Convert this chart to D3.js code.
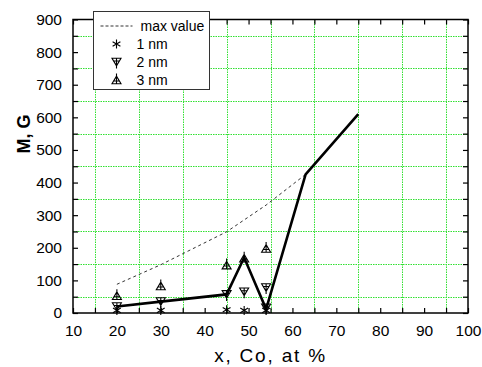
<!DOCTYPE html>
<html>
<head>
<meta charset="utf-8">
<script src="https://cdn.jsdelivr.net/npm/d3@7"></script>
<style>
  body { margin: 0; background: #fff; }
  text { font-family: "Liberation Sans", Arial, sans-serif; }
</style>
</head>
<body>
<div id="chart"></div>
<script>
// values
const xTickValues = [10, 20, 30, 40, 50, 60, 70, 80, 90, 100];
const yTickValues = [0, 100, 200, 300, 400, 500, 600, 700, 800, 900];
const xGridValues = [15, 25, 35, 45, 55, 65, 75, 85, 95];
const yGridValues = [50, 150, 250, 350, 450, 550, 650, 750, 850];

const maxX = [20, 30, 45, 54, 63];
const maxY = [88, 148, 249, 331, 425];

const lineX = [20, 30, 45, 49, 54, 63, 75];
const lineY = [20, 35, 57, 170, 12, 425, 610];

const nm1X = [20, 30, 45, 49, 54];
const nm1Y = [8, 8, 10, 8, 8];
const nm2X = [20, 30, 45, 49, 54, 54];
const nm2Y = [20, 35, 57, 65, 78, 16];
const nm3X = [20, 30, 45, 49, 54];
const nm3Y = [53, 83, 147, 168, 198];

const legendLabels = ["max value", "1 nm", "2 nm", "3 nm"];

const width = 482, height = 367;
const margin = {left: 73, right: 14, top: 19.5, bottom: 54};

const svg = d3.select("#chart").append("svg")
  .attr("width", width).attr("height", height);

const x = d3.scaleLinear().domain([10, 100]).range([margin.left, width - margin.right]);
const y = d3.scaleLinear().domain([0, 900]).range([height - margin.bottom, margin.top]);

const minorX = d3.range(10, 100.1, 5);
const minorY = d3.range(0, 900.1, 50);

// green dotted grid
const px = v => Math.round(v) + 0.5;
svg.append("g").selectAll("line").data(xGridValues).enter().append("line")
  .attr("x1", d => px(x(d))).attr("x2", d => px(x(d)))
  .attr("y1", y(0)).attr("y2", y(900))
  .attr("stroke", "#33e033").attr("stroke-width", 1).attr("stroke-dasharray", "1.5,1");
svg.append("g").selectAll("line").data(yGridValues).enter().append("line")
  .attr("x1", x(10)).attr("x2", x(100))
  .attr("y1", d => px(y(d))).attr("y2", d => px(y(d)))
  .attr("stroke", "#33e033").attr("stroke-width", 1).attr("stroke-dasharray", "1.5,1");

function styleAxis(g) {
  g.select(".domain").remove();
  g.selectAll(".tick line").attr("stroke", "#000").attr("stroke-width", 1.2);
  g.selectAll(".tick text").attr("font-size", "15.5px").attr("fill", "#000")
    .attr("font-family", "Liberation Sans, Arial, sans-serif");
}

const fmtX = d => xTickValues.includes(d) ? d : "";
const fmtY = d => yTickValues.includes(d) ? d : "";

svg.append("g").attr("transform", `translate(0,${y(0)})`)
  .call(d3.axisBottom(x).tickValues(minorX).tickSize(-5).tickPadding(12).tickFormat(fmtX))
  .call(styleAxis);
svg.append("g").attr("transform", `translate(0,${y(900)})`)
  .call(d3.axisTop(x).tickValues(minorX).tickSize(-5).tickFormat(""))
  .call(styleAxis);
svg.append("g").attr("transform", `translate(${x(10)},0)`)
  .call(d3.axisLeft(y).tickValues(minorY).tickSize(-5).tickPadding(11).tickFormat(fmtY))
  .call(styleAxis);
svg.append("g").attr("transform", `translate(${x(100)},0)`)
  .call(d3.axisRight(y).tickValues(minorY).tickSize(-5).tickFormat(""))
  .call(styleAxis);

// frame
svg.append("rect")
  .attr("x", x(10)).attr("y", y(900))
  .attr("width", x(100) - x(10)).attr("height", y(0) - y(900))
  .attr("fill", "none").attr("stroke", "#000").attr("stroke-width", 1.5);

// max value dashed
const maxData = maxX.map((d, i) => [d, maxY[i]]);
svg.append("path").datum(maxData)
  .attr("d", d3.line().x(d => x(d[0])).y(d => y(d[1])))
  .attr("fill", "none").attr("stroke", "#333").attr("stroke-width", 1)
  .attr("stroke-dasharray", "3,3");

// solid line
const lineData = lineX.map((d, i) => [d, lineY[i]]);
svg.append("path").datum(lineData)
  .attr("d", d3.line().x(d => x(d[0])).y(d => y(d[1])))
  .attr("fill", "none").attr("stroke", "#000").attr("stroke-width", 2.6)
  .attr("stroke-linejoin", "miter");

// marker shapes
const shapes = {
  nm1: "M0,-4.5V4.5M-3.9,-2.3L3.9,2.3M-3.9,2.3L3.9,-2.3",
  nm2: "M-4.5,-3.8H4.5L0,3.8Z M0,-3.8V6.5 M-2.8,-1H2.8",
  nm3: "M-4.5,3.8H4.5L0,-3.8Z M0,3.8V-6.5 M-2.8,1H2.8"
};

function drawMarkers(xs, ys, shape) {
  svg.append("g").selectAll("path").data(xs.map((d, i) => [d, ys[i]])).enter()
    .append("path")
    .attr("transform", d => `translate(${x(d[0])},${y(d[1])})`)
    .attr("d", shape)
    .attr("fill", "none").attr("stroke", "#000").attr("stroke-width", 1.1);
}
drawMarkers(nm1X, nm1Y, shapes.nm1);
drawMarkers(nm2X, nm2Y, shapes.nm2);
drawMarkers(nm3X, nm3Y, shapes.nm3);

// legend
const lg = svg.append("g").attr("transform", "translate(93.5,11.5)");
lg.append("rect").attr("width", 116).attr("height", 78)
  .attr("fill", "#fff").attr("stroke", "#333").attr("stroke-width", 1);
const rowY = [14.5, 32.5, 50.5, 68.5];
lg.append("line").attr("x1", 7).attr("x2", 39).attr("y1", rowY[0]).attr("y2", rowY[0])
  .attr("stroke", "#333").attr("stroke-dasharray", "3,2");
[shapes.nm1, shapes.nm2, shapes.nm3].forEach((s, i) => {
  lg.append("path").attr("transform", `translate(23,${rowY[i + 1]})`)
    .attr("d", s).attr("fill", "none").attr("stroke", "#000").attr("stroke-width", 1.1);
});
lg.selectAll("text.lab").data(legendLabels).enter().append("text")
  .attr("class", "lab")
  .attr("x", (d, i) => i === 0 ? 47 : 43)
  .attr("y", (d, i) => rowY[i] + 5)
  .attr("font-size", "14px")
  .text(d => d);

// axis titles
svg.append("text")
  .attr("x", (x(10) + x(100)) / 2).attr("y", 362)
  .attr("text-anchor", "middle")
  .attr("font-size", "19px").attr("letter-spacing", "1.8px")
  .text("x, Co, at %");

svg.append("text")
  .attr("transform", "translate(30,134) rotate(-90)")
  .attr("text-anchor", "middle")
  .attr("font-size", "18px").attr("font-weight", "bold")
  .text("M, G");
</script>
</body>
</html>
